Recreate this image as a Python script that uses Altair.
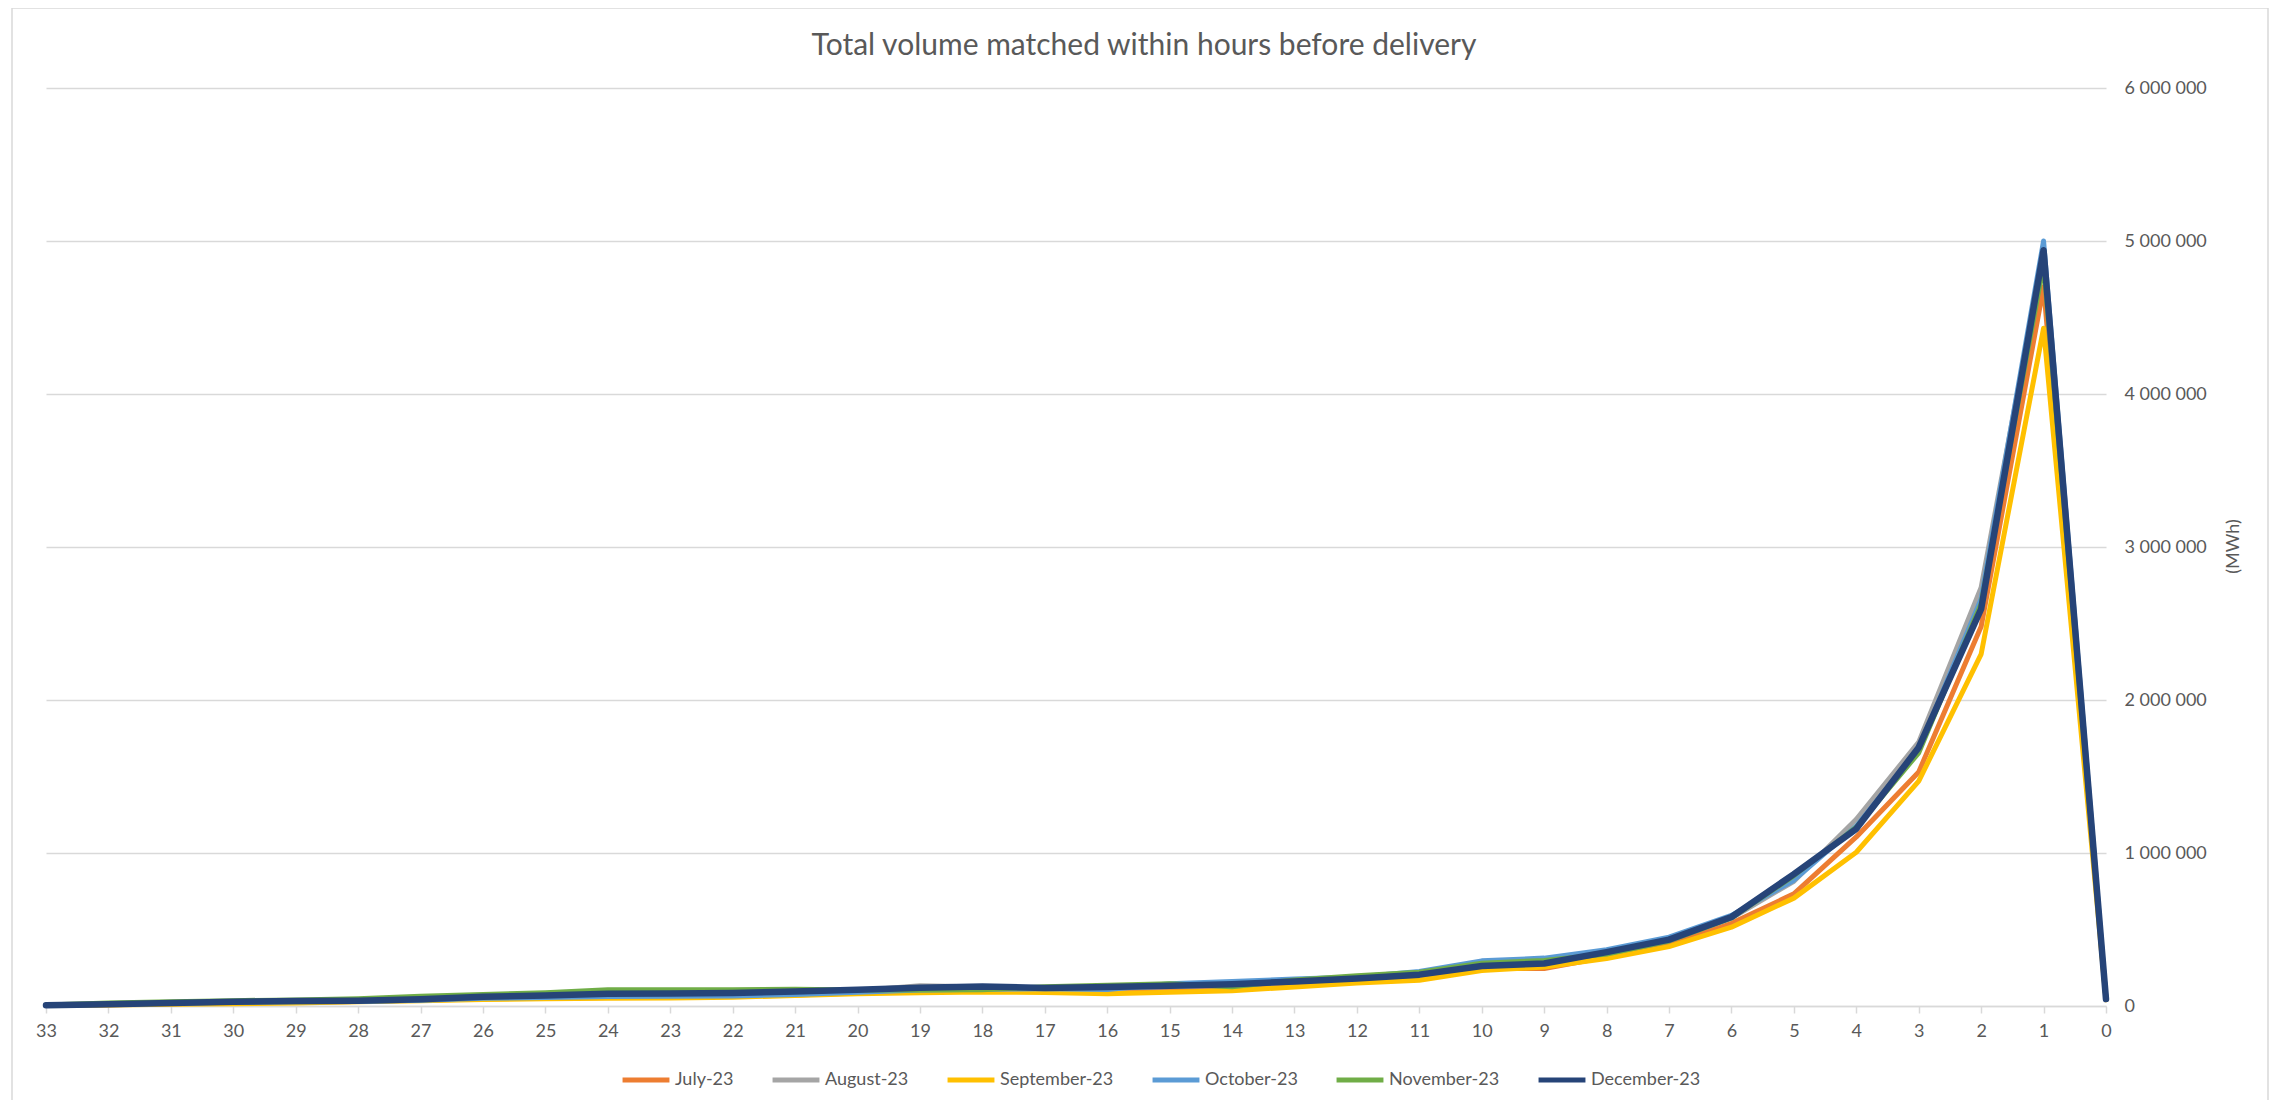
import altair as alt
import pandas as pd

hours = list(range(33, -1, -1))
series_names = ["July-23", "August-23", "September-23", "October-23", "November-23", "December-23"]
series_colors = ["#ED7D31", "#A5A5A5", "#FFC000", "#5B9BD5", "#70AD47", "#264478"]
y_ticks = [0, 1000000, 2000000, 3000000, 4000000, 5000000, 6000000]

july = [3000, 8000, 15000, 20000, 25000, 30000, 38000, 48000, 52000, 56000, 60000, 64000,
        72000, 85000, 95000, 100000, 98000, 92000, 100000, 112000, 135000, 160000, 180000,
        245000, 245000, 320000, 400000, 540000, 733000, 1105000, 1530000, 2480000, 4700000, 42000]
august = [4000, 10000, 20000, 26000, 30000, 36000, 42000, 58000, 62000, 70000, 72000, 78000,
          90000, 100000, 132000, 125000, 110000, 115000, 125000, 135000, 158000, 178000, 200000,
          265000, 280000, 345000, 430000, 575000, 815000, 1220000, 1725000, 2735000, 4920000, 45000]
september = [3000, 6000, 12000, 15000, 20000, 28000, 35000, 42000, 47000, 50000, 52000, 58000,
             68000, 80000, 86000, 92000, 88000, 80000, 90000, 100000, 124000, 150000, 168000,
             232000, 255000, 310000, 388000, 515000, 705000, 1005000, 1470000, 2300000, 4430000, 40000]
october = [4000, 9000, 18000, 24000, 28000, 30000, 38000, 50000, 55000, 62000, 63000, 65000,
           75000, 90000, 105000, 110000, 112000, 108000, 145000, 160000, 176000, 190000, 225000,
           295000, 313000, 368000, 450000, 592000, 822000, 1175000, 1680000, 2660000, 5000000, 50000]
november = [6000, 20000, 28000, 35000, 40000, 48000, 64000, 75000, 87000, 107000, 107000, 107000,
            110000, 105000, 104000, 106000, 126000, 136000, 145000, 126000, 170000, 198000, 220000,
            280000, 298000, 340000, 425000, 575000, 852000, 1168000, 1655000, 2630000, 4850000, 45000]
december = [5000, 11000, 20000, 27000, 32000, 35000, 44000, 60000, 68000, 80000, 81000, 85000,
            95000, 106000, 120000, 128000, 118000, 124000, 132000, 142000, 160000, 180000, 205000,
            262000, 278000, 352000, 434000, 582000, 862000, 1158000, 1690000, 2595000, 4940000, 45000]

all_values = [july, august, september, october, november, december]
line_widths = [5, 5, 5, 5, 5, 6.5]

rows = []
for name, vals in zip(series_names, all_values):
    for h, v in zip(hours, vals):
        rows.append({"hour": h, "series": name, "volume": v})
df = pd.DataFrame(rows)

FONT = "Lato"
TXT = "#595959"
GRID = "#d9d9d9"

x_enc = alt.X(
    "hour:O",
    sort=hours,
    scale=alt.Scale(padding=0),
    axis=alt.Axis(
        title=None, labelAngle=0, labelFont=FONT, labelFontSize=18, labelColor=TXT,
        domainColor=GRID, domainWidth=1.5, tickColor=GRID, tickWidth=1.5, tickSize=7,
        labelPadding=9, grid=False,
    ),
)
y_enc = alt.Y(
    "volume:Q",
    scale=alt.Scale(domain=[0, 6000000], nice=False),
    axis=alt.Axis(
        orient="right", values=y_ticks, grid=True, gridColor=GRID, gridWidth=1.5,
        domain=False, ticks=False, labelPadding=18, labelFont=FONT, labelFontSize=18,
        labelColor=TXT,
        labelExpr="datum.value == 0 ? '0' : format(datum.value / 1000000, 'd') + ' 000 000'",
        title="(MWh)", titleAngle=270, titleX=127, titleY=458, titleAlign="center",
        titleBaseline="middle", titleFont=FONT, titleFontSize=18, titleFontWeight="normal",
        titleColor=TXT,
    ),
)
color_enc = alt.Color(
    "series:N",
    scale=alt.Scale(domain=series_names, range=series_colors),
    legend=alt.Legend(
        title=None, orient="none", legendX=574, legendY=966, direction="horizontal",
        symbolType="stroke", symbolSize=2200, symbolStrokeWidth=5, labelFont=FONT,
        labelFontSize=18, labelColor=TXT, labelOffset=3, columnPadding=28,
    ),
)

layers = []
for name, w in zip(series_names, line_widths):
    layers.append(
        alt.Chart(df)
        .transform_filter(alt.datum.series == name)
        .mark_line(strokeWidth=w, strokeJoin="round", strokeCap="round")
        .encode(x=x_enc, y=y_enc, color=color_enc)
    )

border = alt.Chart(pd.DataFrame({"a": [0]})).mark_rect(
    fillOpacity=0, stroke=GRID, strokeWidth=1.5
).encode(x=alt.value(-34), x2=alt.value(2222), y=alt.value(-80), y2=alt.value(1100))

chart = alt.layer(border, *layers).properties(
    width=2060,
    height=918,
    padding={"left": 38, "top": 80, "right": 163, "bottom": 94},
    autosize=alt.AutoSizeParams(type="none"),
    title=alt.TitleParams(
        "Total volume matched within hours before delivery",
        fontSize=30, font=FONT, fontWeight="normal", color=TXT,
        anchor="middle", dx=68, offset=-54,
    ),
).configure_view(stroke=None)

chart.save("out.html", embed_options={"renderer": "svg", "actions": False})
